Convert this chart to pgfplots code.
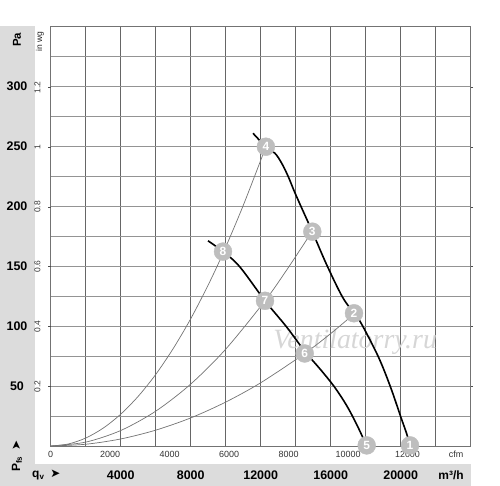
\documentclass[border=0pt]{standalone}
\usepackage{fontspec}
\setmainfont{Liberation Sans}
\newfontfamily\dejavu{DejaVu Sans}
\newfontfamily\wmfont{Liberation Serif}
\usepackage{pgfplots}
\pgfplotsset{compat=1.18}
\definecolor{band}{HTML}{DCDCDC}
\definecolor{bub}{HTML}{BEBEBE}
\begin{document}
\begin{tikzpicture}[x=1bp,y=1bp]
\path[use as bounding box] (-50.7,-40) rectangle (449.3,446);
\fill[band] (-50.7,-40) rectangle (-15.7,420);
\fill[band] (-50.7,-40) rectangle (420,-18);
% label axis (Pa and m3/h)
\begin{axis}[at={(0,0)}, anchor=south west, scale only axis,
  width=420bp, height=420bp, xmin=0, xmax=24000, ymin=0, ymax=350,
  axis line style={draw=none}, major tick length=0pt,
  scaled ticks=false,
  /pgf/number format/1000 sep={}, /pgf/number format/assume math mode=true,
  xtick={4000,8000,12000,16000,20000}, ytick={50,100,150,200,250,300},
  tick label style={font=\bfseries\fontsize{12.5}{14}\selectfont},
  xticklabel style={anchor=center, yshift=-29bp},
  yticklabel style={anchor=center, xshift=-33.7bp}]
\end{axis}
\begin{axis}[at={(0,0)}, anchor=south west, scale only axis,
  width=420bp, height=420bp, xmin=0, xmax=24000, ymin=0, ymax=350,
  clip=false, scaled ticks=false,
  /pgf/number format/1000 sep={}, /pgf/number format/assume math mode=true,
  axis line style={draw=black!55, line width=0.8bp},
  xtick={0,2000,...,24000}, xticklabels={},
  ytick={0,25,...,350}, yticklabels={},
  major tick length=0pt, grid=major,
  x grid style={draw=black!60, line width=0.7bp},
  y grid style={draw=black!42, line width=0.9bp},
  extra x ticks={0,3398,6796,10194,13592,16990,20388},
  extra x tick labels={0,2000,4000,6000,8000,10000,12000},
  extra x tick style={grid=none, major tick length=0pt,
    tick label style={font=\fontsize{9}{10}\selectfont, text=black!80, anchor=center, yshift=-8bp}},
  extra y ticks={49.82,99.64,149.45,199.27,249.09,298.91},
  extra y tick labels={0.2,0.4,0.6,0.8,1,1.2},
  extra y tick style={grid=none, major tick length=2.5bp, tick align=outside,
    tick style={draw=black!70, line width=0.6bp},
    tick label style={font=\fontsize{8.5}{9}\selectfont, text=black!80, anchor=center, xshift=-10.7bp, rotate=90}}]
\node[font=\wmfont\itshape\fontsize{28}{28}\selectfont, text=black!16] at (axis cs:17400,87) {Ventilatorry.ru};
% system curves
\addplot[black!55, line width=0.7bp, smooth] coordinates {(0,0) (1000,1.66) (2000,6.62) (3000,14.9) (4000,26.5) (5000,41.4) (6000,59.6) (7000,81.2) (8000,106) (9000,134.2) (9846,160.6) (11000,200.4) (12297,249.4)};
\addplot[black!55, line width=0.7bp, smooth] coordinates {(0,0) (2000,3.23) (4000,12.9) (6000,29.0) (8000,51.6) (10000,80.7) (12246,121) (13500,147) (14949,179)};
\addplot[black!55, line width=0.7bp, smooth] coordinates {(0,0) (2000,1.46) (4000,5.86) (6000,13.2) (8000,23.4) (10000,36.6) (12000,52.7) (14514,77.1) (16000,93.7) (17331,110)};
% fan curves
\addplot[black, line width=1.6bp, smooth, tension=0.55] coordinates {(11560,260.6) (12297,249.4) (12817,243.9) (13200,235.6) (13577,224.4) (14000,209.5) (14949,178.6) (15771,151) (16663,124.4) (17331,110.6) (17750,102) (18720,74.4) (19411,49.4) (20000,24.4) (20300,12) (20560,0)};
\addplot[black, line width=1.6bp, smooth, tension=0.55] coordinates {(8989,171) (9846,162) (10800,149.4) (12246,121) (13469,99.4) (14514,79) (15400,64) (16200,49.5) (16900,34) (17500,17.5) (18057,0)};
% operating points
\addplot[only marks, mark=*, mark size=9pt, mark options={fill=bub, draw=bub},
  point meta=explicit symbolic, nodes near coords, nodes near coords align=center,
  every node near coord/.style={anchor=center, text=white, font=\bfseries\fontsize{12}{12}\selectfont}]
  table[meta=lab] {
x y lab
20531 0.5 1
17331 110.6 2
14949 178.6 3
12297 249.4 4
18057 0.5 5
14514 77.1 6
12246 121 7
9846 162 8
};
\end{axis}
\node[rotate=90, font=\bfseries\fontsize{11.5}{12}\selectfont] at (-33.7,406) {Pa};
\node[rotate=90, font=\fontsize{8.5}{9}\selectfont, text=black!85] at (-10.7,404) {in wg};
\node[font=\fontsize{9}{10}\selectfont, text=black!80] at (405.3,-8) {cfm};
\node[font=\bfseries\fontsize{12}{14}\selectfont] at (400.3,-29) {m³/h};
\node[anchor=west, font=\bfseries\fontsize{12}{14}\selectfont, inner sep=0pt] at (-18.7,-29) {q\textsubscript{v}\hspace{6bp}{\dejavu ➤}};
\node[anchor=west, rotate=90, font=\bfseries\fontsize{12}{14}\selectfont, inner sep=0pt] at (-33.7,-26) {P\textsubscript{fs}\hspace{6bp}{\dejavu ➤}};
\end{tikzpicture}
\end{document}
